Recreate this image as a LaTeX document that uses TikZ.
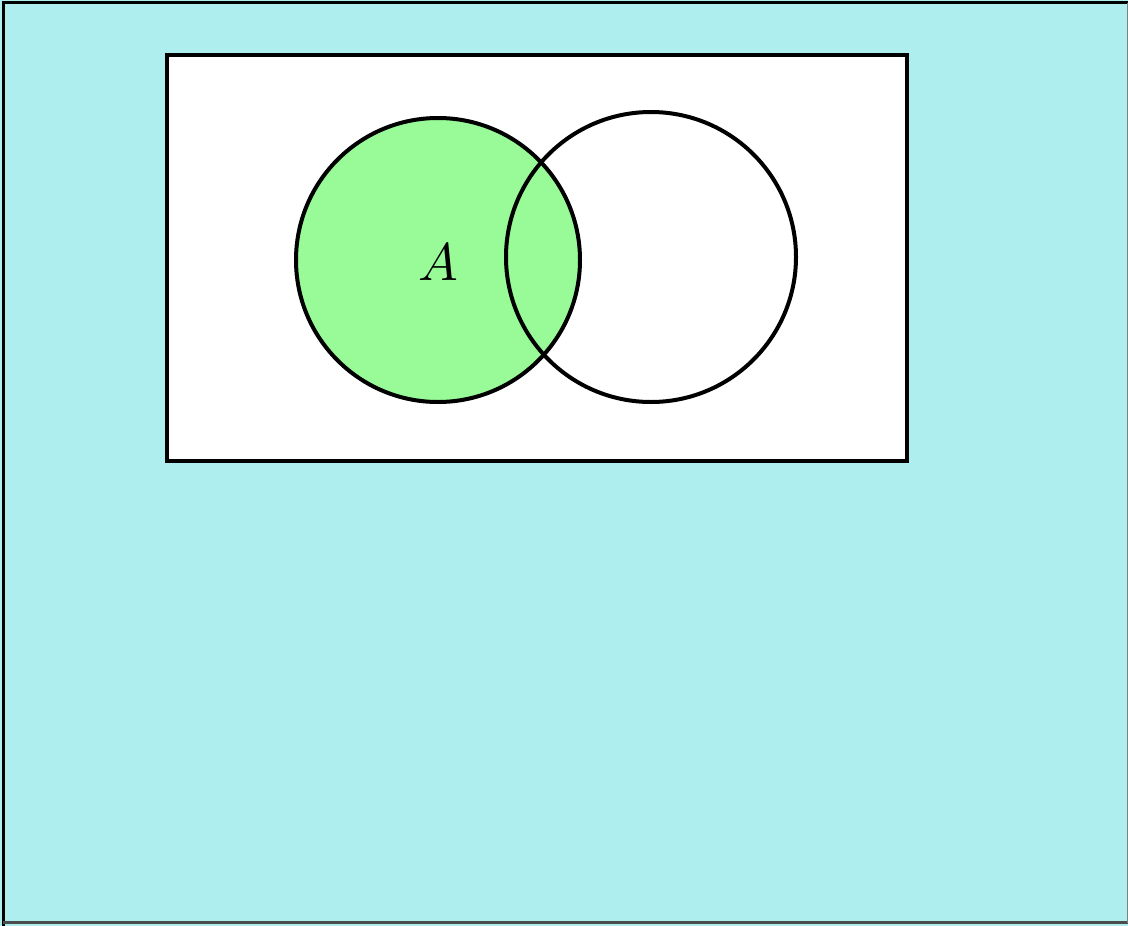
\documentclass[tikz,border=0pt]{standalone}
\definecolor{bgcyan}{RGB}{175,238,238}
\definecolor{setgreen}{RGB}{152,251,152}
\tikzset{
  setline/.style={draw=black, line width=4pt, outer sep=0pt},
  x=1pt, y=-1pt
}
\begin{document}
\begin{tikzpicture}
\useasboundingbox (0,0) rectangle (1128,926);
\fill[bgcyan] (0,0) rectangle (1128,926);
\draw[black, line width=3pt] (3,926) -- (3,2.5) -- (1128,2.5);
\draw[black!70, line width=2.5pt] (3,922.5) -- (1128,922.5);
\draw[black!50, line width=1pt] (1127.5,2.5) -- (1127.5,922.5);
\node[setline, fill=white, minimum width=739.5pt, minimum height=406pt, inner sep=0pt, anchor=north west] (U) at (167,54.5) {};
\node[setline, fill=setgreen, circle, minimum size=284pt, inner sep=0pt] (CA) at (438,260) {};
\node[setline, circle, minimum size=290pt, inner sep=0pt] (CB) at (651,257) {};
\node[scale=5.3] (LA) at (438,262) {$A$};
\end{tikzpicture}
\end{document}
